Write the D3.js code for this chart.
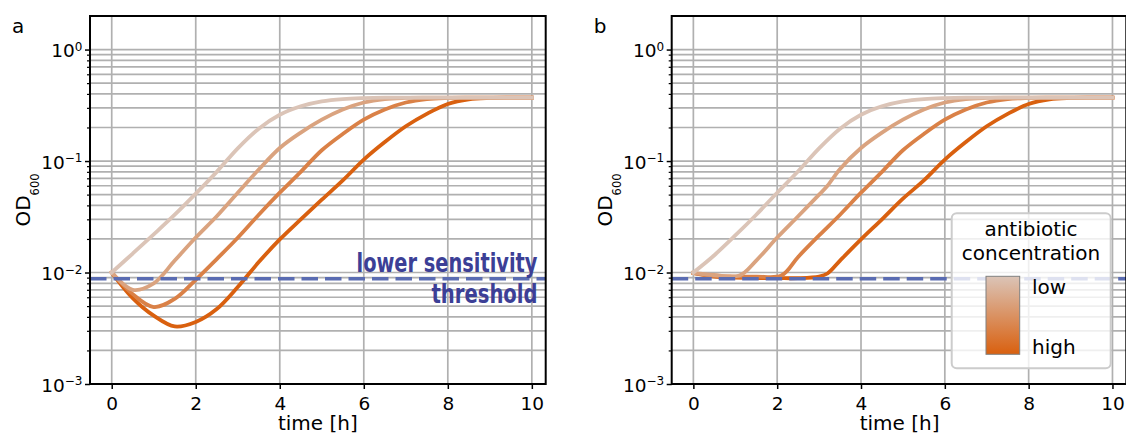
<!DOCTYPE html>
<html>
<head>
<meta charset="utf-8">
<script src="https://cdn.jsdelivr.net/npm/d3@7"></script>
<style>
  body { margin: 0; background: #fff; }
  text { font-family: "DejaVu Sans", sans-serif; }
</style>
</head>
<body>
<div id="chart"></div>
<script>

//****************************************************************************
//Data

// panel a - curves dip below the start value before growing
const timeA = [0,0.5,1,1.5,2,2.5,3,3.5,4,4.5,5,5.5,6,6.5,7,7.5,8,8.5,9,9.5,10]
const odA_low   = [0.010,0.0148,0.022,0.033,0.051,0.080,0.130,0.195,0.26,0.31,0.343,0.36,0.367,0.37,0.37,0.37,0.37,0.37,0.37,0.37,0.37]
const odA_mid1  = [0.010,0.0070,0.0080,0.0128,0.0206,0.032,0.052,0.084,0.131,0.18,0.235,0.29,0.335,0.36,0.368,0.37,0.37,0.37,0.37,0.37,0.37]
const odA_mid2  = [0.010,0.0064,0.0049,0.0058,0.0086,0.0132,0.0205,0.033,0.052,0.080,0.125,0.175,0.235,0.29,0.335,0.36,0.368,0.37,0.37,0.37,0.37]
const odA_high  = [0.010,0.0059,0.0041,0.00328,0.0036,0.0047,0.0074,0.0124,0.0198,0.030,0.045,0.067,0.103,0.148,0.205,0.265,0.325,0.358,0.368,0.37,0.37]

// panel b - curves stay flat at the threshold during the lag phase
const timeB_low  = [0,0.5,1,1.5,2,2.5,3,3.5,4,4.5,5,5.5,6,6.5,7,7.5,8,8.5,9,9.5,10]
const odB_low    = [0.010,0.0143,0.0215,0.033,0.052,0.081,0.130,0.195,0.26,0.31,0.343,0.36,0.367,0.37,0.37,0.37,0.37,0.37,0.37,0.37,0.37]
const timeB_mid1 = [0,0.5,1.1,1.5,2,2.5,3,3.2,3.5,4,4.5,5,5.5,6,6.5,7,7.5,8,9,10]
const odB_mid1   = [0.0099,0.0095,0.0094,0.0128,0.0206,0.032,0.050,0.060,0.085,0.131,0.18,0.235,0.29,0.335,0.36,0.368,0.37,0.37,0.37,0.37]
const timeB_mid2 = [0,0.5,1,1.5,2.1,2.5,3,3.5,4,4.5,5,5.5,6,6.5,7,7.5,8,8.5,9,10]
const odB_mid2   = [0.0099,0.0093,0.0092,0.0092,0.0094,0.0138,0.0215,0.033,0.052,0.080,0.125,0.175,0.235,0.29,0.335,0.36,0.368,0.37,0.37,0.37]
const timeB_high = [0,0.5,1,1.5,2,2.5,3,3.2,3.5,4,4.5,5,5.5,6,6.5,7,7.5,8,8.5,9,9.5,10]
const odB_high   = [0.0099,0.0092,0.0090,0.0089,0.0089,0.0089,0.0092,0.0098,0.0128,0.0198,0.030,0.046,0.067,0.103,0.148,0.205,0.265,0.325,0.358,0.368,0.37,0.37]

const threshold = 0.0088

const xTicks = [0,2,4,6,8,10]
const yMajorTicks = [1e-3,1e-2,1e-1,1]
const yExponents = ["\u22123","\u22122","\u22121","0"]
const minorMultipliers = [2,3,4,5,6,7,8,9]
const minorDecades = [1e-3,1e-2,1e-1]

//****************************************************************************
//Layout

const canvWidth = 1126, canvHeight = 434
const axTop = 16, axBottom = 384
const xDomain = [-0.517, 10.33]
const yDomain = [1e-3, 2]

const lowColor = "#dbc4b7", highColor = "#d9600f"
const colorAt = d3.interpolateRgb(lowColor, highColor)
const threshColor = "#5a6cb2"
const threshTextColor = "#3c3f96"
const gridColor = "#b0b0b0"

const yMinorTicks = minorDecades.flatMap(d => minorMultipliers.map(m => m * d)).concat([2])

const panels = [
  { letter: "a", left: 90, right: 545.7,
    series: [[timeA, odA_high], [timeA, odA_mid2], [timeA, odA_mid1], [timeA, odA_low]] },
  { letter: "b", left: 671.7, right: 1126.3,
    series: [[timeB_high, odB_high], [timeB_mid2, odB_mid2], [timeB_mid1, odB_mid1], [timeB_low, odB_low]] }
]

const svg = d3.select("#chart").append("svg")
  .attr("width", canvWidth)
  .attr("height", canvHeight)
  .attr("viewBox", `0 0 ${canvWidth} ${canvHeight}`)

const defs = svg.append("defs")
const grad = defs.append("linearGradient").attr("id", "concGrad")
  .attr("x1", 0).attr("y1", 0).attr("x2", 0).attr("y2", 1)
grad.append("stop").attr("offset", "0%").attr("stop-color", lowColor)
grad.append("stop").attr("offset", "100%").attr("stop-color", highColor)

panels.forEach(p => {
  const x = d3.scaleLinear().domain(xDomain).range([p.left, p.right])
  const y = d3.scaleLog().domain(yDomain).range([axBottom, axTop])
  const g = svg.append("g")

  //grid
  const grid = g.append("g").attr("stroke", gridColor).attr("stroke-width", 1.7)
  grid.selectAll(".vg").data(xTicks).join("line")
    .attr("x1", d => x(d)).attr("x2", d => x(d))
    .attr("y1", axTop).attr("y2", axBottom)
  grid.selectAll(".hg").data(yMajorTicks.concat(yMinorTicks)).join("line")
    .attr("x1", p.left).attr("x2", p.right)
    .attr("y1", d => y(d)).attr("y2", d => y(d))

  //curves: high concentration first so the lightest ends on top
  const line = d3.line().x(d => x(d[0])).y(d => y(d[1])).curve(d3.curveCatmullRom.alpha(0.5))
  p.series.forEach((s, i) => {
    const pts = s[0].map((t, k) => [t, s[1][k]])
    g.append("path")
      .datum(pts)
      .attr("d", line)
      .attr("fill", "none")
      .attr("stroke", colorAt(1 - i / 3))
      .attr("stroke-width", 3.8)
      .attr("stroke-linecap", "square")
      .attr("stroke-linejoin", "round")
  })

  //threshold
  g.append("line")
    .attr("x1", p.left).attr("x2", p.right)
    .attr("y1", y(threshold)).attr("y2", y(threshold))
    .attr("stroke", threshColor)
    .attr("stroke-width", 3.5)
    .attr("stroke-dasharray", "16.5,7")

  //axes
  const xAxis = d3.axisBottom(x).tickValues(xTicks).tickSize(5).tickPadding(8).tickFormat(d3.format("d"))
  g.append("g").attr("transform", `translate(0,${axBottom})`).call(xAxis)
    .call(a => a.select(".domain").remove())
    .call(a => a.selectAll(".tick line").attr("stroke-width", 1.5))
    .call(a => a.selectAll(".tick text").attr("font-size", 18.5).attr("font-family", "DejaVu Sans").attr("fill", "#000"))

  const yAxis = d3.axisLeft(y).tickValues(yMajorTicks).tickSize(5).tickPadding(2.5).tickFormat("")
  g.append("g").attr("transform", `translate(${p.left},0)`).call(yAxis)
    .call(a => a.select(".domain").remove())
    .call(a => a.selectAll(".tick line").attr("stroke-width", 1.5))
    .call(a => a.selectAll(".tick text").each(function (d, i) {
      const t = d3.select(this).attr("font-size", 18.5).attr("font-family", "DejaVu Sans")
        .attr("fill", "#000").attr("dy", null).attr("y", 7)
      t.append("tspan").text("10")
      t.append("tspan").attr("font-size", 12).attr("dy", -6.5).text(yExponents[i])
    }))

  const yMinor = d3.axisLeft(y).tickValues(yMinorTicks.filter(v => v < 2)).tickSize(3).tickFormat("")
  g.append("g").attr("transform", `translate(${p.left},0)`).call(yMinor)
    .call(a => a.select(".domain").remove())
    .call(a => a.selectAll(".tick line").attr("stroke-width", 1.2))

  //spines
  g.append("rect")
    .attr("x", p.left).attr("y", axTop)
    .attr("width", p.right - p.left).attr("height", axBottom - axTop)
    .attr("fill", "none").attr("stroke", "#000").attr("stroke-width", 2)

  //labels
  g.append("text")
    .attr("x", p.left + (545.7 - 90) / 2)
    .attr("y", 429.5)
    .attr("font-size", 20)
    .attr("text-anchor", "middle")
    .text("time [h]")

  const od = g.append("text")
    .attr("transform", `translate(${p.left - 60},${(axTop + axBottom) / 2}) rotate(-90)`)
    .attr("font-size", 20)
    .attr("text-anchor", "middle")
  od.append("tspan").text("OD")
  od.append("tspan").attr("font-size", 11.5).attr("dy", 9).text("600")

  g.append("text")
    .attr("x", p.left - 78).attr("y", 33)
    .attr("font-size", 20)
    .text(p.letter)
})

//****************************************************************************
//Threshold annotation (panel a)

const threshText = svg.append("g")
  .attr("fill", threshTextColor)
  .attr("font-weight", 600)
  .attr("font-size", 26)
  .attr("text-anchor", "end")
threshText.append("text")
  .attr("x", 537.5).attr("y", 272)
  .attr("font-family", "Open Sans")
  .attr("textLength", 181).attr("lengthAdjust", "spacingAndGlyphs")
  .text("lower sensitivity")
threshText.append("text")
  .attr("x", 537.5).attr("y", 303)
  .attr("font-family", "Open Sans")
  .attr("textLength", 106).attr("lengthAdjust", "spacingAndGlyphs")
  .text("threshold")

//****************************************************************************
//Legend (panel b)

const leg = svg.append("g")
leg.append("rect")
  .attr("x", 951.7).attr("y", 213.3)
  .attr("width", 159).attr("height", 155)
  .attr("rx", 5)
  .attr("fill", "#fff").attr("fill-opacity", 0.8)
  .attr("stroke", "#cccccc").attr("stroke-width", 2)

leg.append("text").attr("x", 1031).attr("y", 236).attr("font-size", 20)
  .attr("text-anchor", "middle").text("antibiotic")
leg.append("text").attr("x", 1031).attr("y", 260).attr("font-size", 20)
  .attr("text-anchor", "middle").text("concentration")

leg.append("rect")
  .attr("x", 986).attr("y", 276.3)
  .attr("width", 33.7).attr("height", 78)
  .attr("fill", "url(#concGrad)")
  .attr("stroke", "#808080").attr("stroke-width", 1)

leg.append("text").attr("x", 1032).attr("y", 293.5).attr("font-size", 20).text("low")
leg.append("text").attr("x", 1032).attr("y", 353.5).attr("font-size", 20).text("high")

</script>
</body>
</html>
